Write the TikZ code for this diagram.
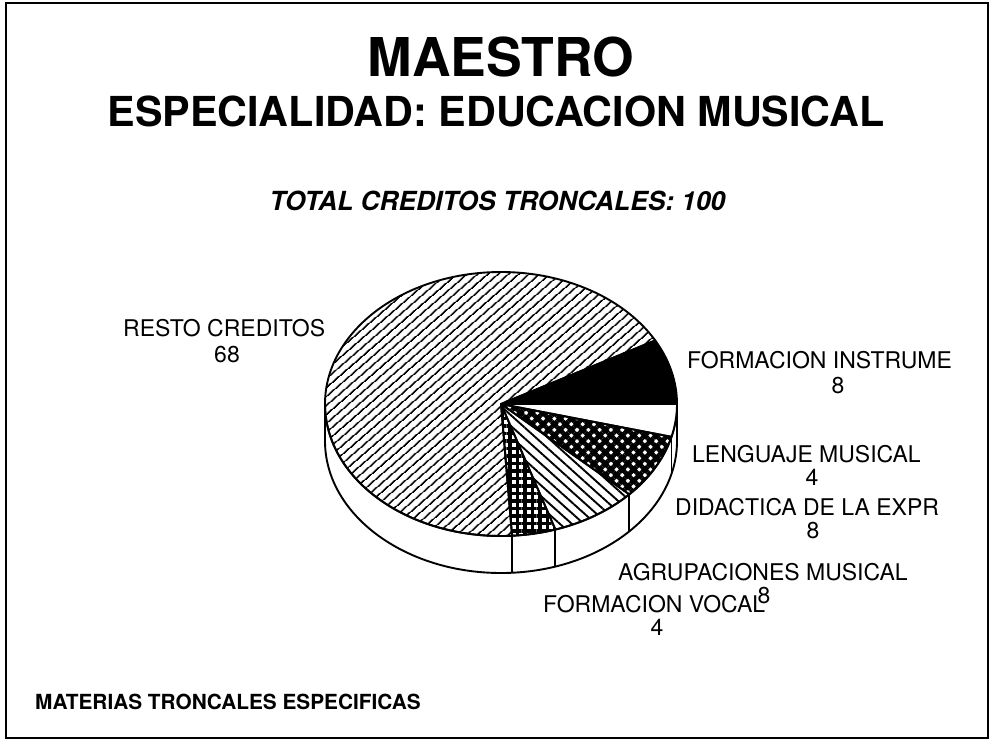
\documentclass[tikz,border=0pt]{standalone}
\usepackage{fontspec}
\setmainfont{TeX Gyre Heros}
\usetikzlibrary{patterns.meta,calc}
\begin{document}
\begin{tikzpicture}[x=1pt,y=1pt,
  lbl/.style={font=\fontsize{23}{23}\selectfont, inner sep=0pt, anchor=base west},
  num/.style={font=\fontsize{23}{23}\selectfont, inner sep=0pt, anchor=base},
  pieline/.style={line width=1.9pt, line join=round},
  resto/.style={pieline, pattern={Lines[angle=41,distance=6.5pt,line width=1.8pt]}},
  instr/.style={pieline, fill=black},
  lengua/.style={pieline, fill=white},
  didac/.style={pieline, pattern={Hatch[angle=45,distance=8pt,line width=4.6pt]}},
  agrup/.style={pieline, pattern={Lines[angle=-42,distance=8pt,line width=1.9pt]}},
  vocal/.style={pieline, pattern={Hatch[angle=0,distance=7.5pt,line width=3.6pt]}}]
\useasboundingbox (0,0) rectangle (993,-741);
\draw[line width=2.6pt] (6,-3) rectangle (988,-738);

% titles
\node[anchor=base, inner sep=0pt, font=\fontsize{53.5}{54}\selectfont\bfseries] (t1) at (501,-77) {MAESTRO};
\node[anchor=base, inner sep=0pt, font=\fontsize{41.3}{42}\selectfont\bfseries] (t2) at (496,-127) {ESPECIALIDAD: EDUCACION MUSICAL};
\node[anchor=base, inner sep=0pt, font=\fontsize{26.3}{27}\selectfont\bfseries\itshape] (t3) at (497.5,-210) {TOTAL CREDITOS TRONCALES: 100};
\node[anchor=base west, inner sep=0pt, font=\fontsize{20.8}{21}\selectfont\bfseries] (foot) at (35,-709) {MATERIAS TRONCALES ESPECIFICAS};

% pie
\coordinate (C) at (501,-404);
\newcommand\pieslice[3]{\filldraw[#3] (C) -- ($(C)+(#1:176 and 132)$) arc[start angle=#1,end angle=#2,x radius=176,y radius=132] -- cycle;}

% side wall
\filldraw[pieline, fill=white] ($(C)+(-176,0)$) -- ++(0,-37)
  arc[start angle=180,end angle=360,x radius=176,y radius=132] -- ++(0,37)
  arc[start angle=0,end angle=-180,x radius=176,y radius=132] -- cycle;
\foreach \a in {-14.4,-43.2,-72,-86.4}
  \draw[pieline] ($(C)+(\a:176 and 132)$) -- ++(0,-37);

\pieslice{-86.4}{-331.2}{resto}
\pieslice{28.8}{0}{instr}
\pieslice{0}{-14.4}{lengua}
\pieslice{-14.4}{-43.2}{didac}
\pieslice{-43.2}{-72}{agrup}
\pieslice{-72}{-86.4}{vocal}

% labels
\node[lbl] (l1) at (123,-336) {RESTO CREDITOS};
\node[num] (n1) at (227,-362) {68};
\node[lbl] (l2) at (687,-368) {FORMACION INSTRUME};
\node[num] (n2) at (838,-393) {8};
\node[lbl] (l3) at (692,-462) {LENGUAJE MUSICAL};
\node[num] (n3) at (812,-485) {4};
\node[lbl] (l4) at (675,-515) {DIDACTICA DE LA EXPR};
\node[num] (n4) at (813,-538) {8};
\node[lbl] (l5) at (618,-580) {AGRUPACIONES MUSICAL};
\node[lbl] (l6) at (543,-612) {FORMACION VOCAL};
\node[num] (n5) at (764,-603) {8};
\node[num] (n6) at (657,-635) {4};
\end{tikzpicture}
\end{document}
